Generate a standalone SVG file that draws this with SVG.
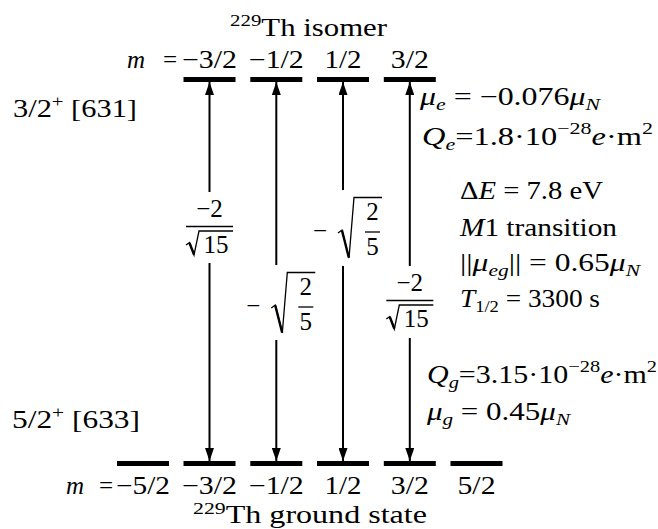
<svg xmlns="http://www.w3.org/2000/svg" width="658" height="529" viewBox="0 0 658 529">
<defs>
<style>
text { font-family: "Liberation Serif", "DejaVu Serif", serif; font-size: 25px; fill: #000; }
.i { font-style: italic; }
.s { font-size: 17px; }
.lvl { fill: #000; }
.ar { stroke: #000; stroke-width: 2; fill: none; }
.fr { stroke: #000; stroke-width: 1.3; fill: none; }
.rad { stroke: #000; stroke-width: 1.3; fill: none; stroke-linejoin: miter; }
.radd { stroke: #000; stroke-width: 2.4; fill: none; }
</style>
<marker id="ah" viewBox="0 0 13 9" refX="13" refY="4.5" markerWidth="13" markerHeight="9" markerUnits="userSpaceOnUse" orient="auto-start-reverse">
<path d="M0,0 L13,4.5 L0,9 z" fill="#000"/>
</marker>
</defs>
<rect width="658" height="529" fill="#fff"/>

<g id="isomer-title"><text x="230" y="36" textLength="157" lengthAdjust="spacingAndGlyphs"><tspan class="s" dy="-10">229</tspan><tspan dy="10">Th isomer</tspan></text></g>
<g id="ground-title"><text x="193" y="523" textLength="234" lengthAdjust="spacingAndGlyphs"><tspan class="s" dy="-9">229</tspan><tspan dy="9">Th ground state</tspan></text></g>

<g id="isomer-m-labels">
<text x="127" y="68" class="i">m</text>
<text x="177" y="68" text-anchor="end">=</text>
<text x="209.5" y="68" text-anchor="middle" textLength="55" lengthAdjust="spacingAndGlyphs">−3/2</text>
<text x="276.3" y="68" text-anchor="middle" textLength="55" lengthAdjust="spacingAndGlyphs">−1/2</text>
<text x="343" y="68" text-anchor="middle" textLength="37" lengthAdjust="spacingAndGlyphs">1/2</text>
<text x="409.8" y="68" text-anchor="middle" textLength="38" lengthAdjust="spacingAndGlyphs">3/2</text>
</g>

<g id="ground-m-labels">
<text x="66" y="494" class="i">m</text>
<text x="113" y="494" text-anchor="end">=</text>
<text x="143" y="494" text-anchor="middle" textLength="54" lengthAdjust="spacingAndGlyphs">−5/2</text>
<text x="209.5" y="494" text-anchor="middle" textLength="55" lengthAdjust="spacingAndGlyphs">−3/2</text>
<text x="276.3" y="494" text-anchor="middle" textLength="55" lengthAdjust="spacingAndGlyphs">−1/2</text>
<text x="343" y="494" text-anchor="middle" textLength="37" lengthAdjust="spacingAndGlyphs">1/2</text>
<text x="409.8" y="494" text-anchor="middle" textLength="38" lengthAdjust="spacingAndGlyphs">3/2</text>
<text x="476.5" y="494" text-anchor="middle" textLength="38" lengthAdjust="spacingAndGlyphs">5/2</text>
</g>

<g id="isomer-state-label"><text x="13" y="117" textLength="124" lengthAdjust="spacingAndGlyphs">3/2<tspan class="s" dy="-10">+</tspan><tspan dy="10"> [631]</tspan></text></g>
<g id="ground-state-label"><text x="12" y="428" textLength="128" lengthAdjust="spacingAndGlyphs">5/2<tspan class="s" dy="-10">+</tspan><tspan dy="10"> [633]</tspan></text></g>

<g id="isomer-levels">
<rect id="e-m3" class="lvl" x="183.5" y="77" width="52" height="5"/>
<rect id="e-m1" class="lvl" x="250.3" y="77" width="52" height="5"/>
<rect id="e-p1" class="lvl" x="317" y="77" width="52" height="5"/>
<rect id="e-p3" class="lvl" x="383.8" y="77" width="52" height="5"/>
</g>
<g id="ground-levels">
<rect id="g-m5" class="lvl" x="117" y="461" width="52" height="5"/>
<rect id="g-m3" class="lvl" x="183.5" y="461" width="52" height="5"/>
<rect id="g-m1" class="lvl" x="250.3" y="461" width="52" height="5"/>
<rect id="g-p1" class="lvl" x="317" y="461" width="52" height="5"/>
<rect id="g-p3" class="lvl" x="383.8" y="461" width="52" height="5"/>
<rect id="g-p5" class="lvl" x="450.5" y="461" width="52" height="5"/>
</g>

<g id="connectors">
<line class="ar" x1="209.5" y1="192" x2="209.5" y2="82" marker-end="url(#ah)"/>
<line class="ar" x1="209.5" y1="263" x2="209.5" y2="461" marker-end="url(#ah)"/>
<line class="ar" x1="276.3" y1="265" x2="276.3" y2="82" marker-end="url(#ah)"/>
<line class="ar" x1="276.3" y1="340" x2="276.3" y2="461" marker-end="url(#ah)"/>
<line class="ar" x1="343" y1="190" x2="343" y2="82" marker-end="url(#ah)"/>
<line class="ar" x1="343" y1="266" x2="343" y2="461" marker-end="url(#ah)"/>
<line class="ar" x1="409.8" y1="266" x2="409.8" y2="82" marker-end="url(#ah)"/>
<line class="ar" x1="409.8" y1="338" x2="409.8" y2="461" marker-end="url(#ah)"/>
</g>

<g id="coef-1">
<text x="209.5" y="217" text-anchor="middle">−2</text>
<line class="fr" x1="186" y1="226.5" x2="233" y2="226.5"/>
<polyline class="rad" points="186,245 189.5,242.5 194,255 199,231 233,231"/>
<line class="radd" x1="189.5" y1="243" x2="194" y2="254.5"/>
<text x="216" y="253" text-anchor="middle">15</text>
</g>
<g id="coef-3">
<text x="313" y="239">−</text>
<polyline class="rad" points="338,233 342,230 349,258 354,197.5 382,197.5"/>
<line class="radd" x1="342" y1="230.5" x2="348.8" y2="257.5"/>
<text x="372.5" y="220" text-anchor="middle">2</text>
<line class="fr" x1="365" y1="232" x2="380" y2="232"/>
<text x="372.5" y="255" text-anchor="middle">5</text>
</g>
<g id="coef-2">
<text x="246.3" y="314">−</text>
<polyline class="rad" points="271.3,308 275.3,305 282.3,333 287.3,272.5 315.3,272.5"/>
<line class="radd" x1="275.3" y1="305.5" x2="282.1" y2="332.5"/>
<text x="305.8" y="295" text-anchor="middle">2</text>
<line class="fr" x1="298.3" y1="307" x2="313.3" y2="307"/>
<text x="305.8" y="330" text-anchor="middle">5</text>
</g>
<g id="coef-4">
<text x="409.8" y="291" text-anchor="middle">−2</text>
<line class="fr" x1="386.3" y1="300.5" x2="433.3" y2="300.5"/>
<polyline class="rad" points="386.3,319 389.8,316.5 394.3,329 399.3,305 433.3,305"/>
<line class="radd" x1="389.8" y1="317" x2="394.3" y2="328.5"/>
<text x="416.3" y="327" text-anchor="middle">15</text>
</g>

<g id="isomer-props">
<text x="420" y="105" textLength="180" lengthAdjust="spacingAndGlyphs"><tspan class="i">μ</tspan><tspan class="i s" dy="5">e</tspan><tspan dy="-5"> = −0.076</tspan><tspan class="i">μ</tspan><tspan class="i s" dy="5">N</tspan></text>
<text x="422" y="145" textLength="231" lengthAdjust="spacingAndGlyphs"><tspan class="i">Q</tspan><tspan class="i s" dy="5">e</tspan><tspan dy="-5">=1.8·10</tspan><tspan class="s" dy="-11">−28</tspan><tspan class="i" dy="11">e</tspan><tspan>·m</tspan><tspan class="s" dy="-11">2</tspan></text>
</g>
<g id="transition-props">
<text x="460" y="199" textLength="143" lengthAdjust="spacingAndGlyphs">Δ<tspan class="i">E</tspan> = 7.8 eV</text>
<text x="460" y="236" textLength="157" lengthAdjust="spacingAndGlyphs"><tspan class="i">M</tspan>1 transition</text>
<text x="460" y="271" textLength="180" lengthAdjust="spacingAndGlyphs">||<tspan class="i">μ</tspan><tspan class="i s" dy="5">eg</tspan><tspan dy="-5">|| = 0.65</tspan><tspan class="i">μ</tspan><tspan class="i s" dy="5">N</tspan></text>
<text x="460" y="307" textLength="140" lengthAdjust="spacingAndGlyphs"><tspan class="i">T</tspan><tspan class="s" dy="5">1/2</tspan><tspan dy="-5"> = 3300 s</tspan></text>
</g>
<g id="ground-props">
<text x="427" y="383" textLength="230" lengthAdjust="spacingAndGlyphs"><tspan class="i">Q</tspan><tspan class="i s" dy="5">g</tspan><tspan dy="-5">=3.15·10</tspan><tspan class="s" dy="-11">−28</tspan><tspan class="i" dy="11">e</tspan><tspan>·m</tspan><tspan class="s" dy="-11">2</tspan></text>
<text x="427" y="420" textLength="143" lengthAdjust="spacingAndGlyphs"><tspan class="i">μ</tspan><tspan class="i s" dy="5">g</tspan><tspan dy="-5"> = 0.45</tspan><tspan class="i">μ</tspan><tspan class="i s" dy="5">N</tspan></text>
</g>
</svg>
